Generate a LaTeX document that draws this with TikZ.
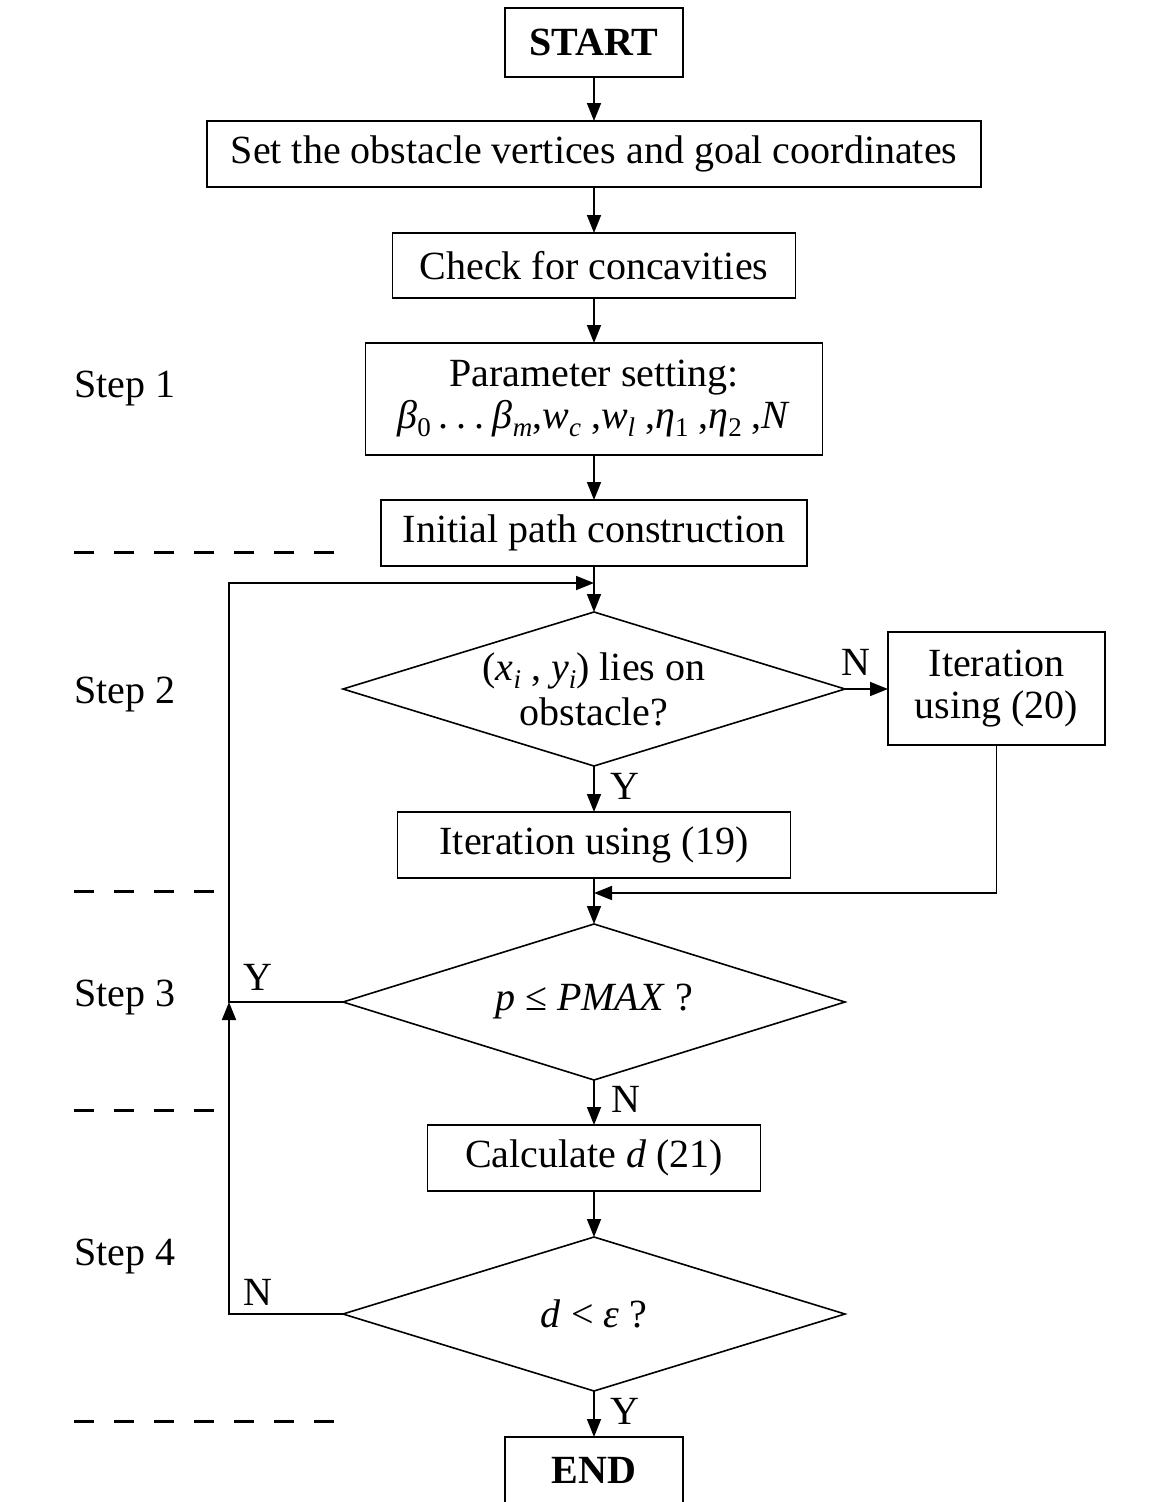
\documentclass[tikz,border=0pt]{standalone}
\usepackage{fontspec}
\setmainfont{Liberation Serif}
\usetikzlibrary{shapes.geometric,arrows.meta}
\newcommand\sbs[1]{\raisebox{-0.2em}{\fontsize{27}{30}\selectfont #1}}
\newcommand\sdot{\hspace{0.2em}.}
\begin{document}
\begin{tikzpicture}[x=1pt,y=-1pt,
  font=\fontsize{40}{42}\selectfont,
  box/.style={draw,line width=1.6pt,inner sep=0pt,outer sep=0pt,align=center},
  dia/.style={draw,diamond,line width=1.6pt,inner sep=0pt,outer sep=0pt},
  arr/.style={line width=1.6pt,-{Triangle[length=18pt,width=14pt]}},
  lbl/.style={inner sep=0pt,align=center},
  sep/.style={line width=3pt,dash pattern=on 20pt off 20pt}]
\useasboundingbox (0,0) rectangle (1151,1502);
\fill[white] (0,0) rectangle (1151,1502);

% nodes
\node[box,minimum width=178pt,minimum height=69pt] (start) at (594,42.5) {\bfseries START};
\node[box,minimum width=774pt,minimum height=66pt] (b2) at (594,154) {Set the obstacle vertices and goal coordinates};
\node[box,minimum width=403pt,minimum height=65pt] (b3) at (594,265.5) {Check for concavities};
\node[box,minimum width=457pt,minimum height=112pt] (b4) at (594,399) {Parameter setting:\\
  \textit{β}\sbs{0}\sdot\sdot\sdot\hspace{0.2em}\textit{β}\sbs{\textit{m}},\textit{w}\sbs{\textit{c}} ,\textit{w}\sbs{\textit{l}} ,\textit{η}\sbs{1} ,\textit{η}\sbs{2} ,\textit{N}};
\node[box,minimum width=426pt,minimum height=66pt] (b5) at (594,533) {Initial path construction};
\node[dia,minimum width=502pt,minimum height=154pt] (d1) at (594,689) {};
\node[lbl] at (d1) {(\textit{x}\sbs{\textit{i}} , \textit{y}\sbs{\textit{i}}) lies on\\[3pt]obstacle?};
\node[box,minimum width=217pt,minimum height=113pt] (it20) at (996.5,688.5) {Iteration\\using (20)};
\node[box,minimum width=393pt,minimum height=66pt] (it19) at (594,845) {Iteration using (19)};
\node[dia,minimum width=502pt,minimum height=156pt] (d2) at (594,1002) {};
\node[lbl] at (d2) {\textit{p} ≤ \textit{PMAX} ?};
\node[box,minimum width=333pt,minimum height=66pt] (calc) at (594,1158) {Calculate \textit{d} (21)};
\node[dia,minimum width=502pt,minimum height=154pt] (d3) at (594,1314) {};
\node[lbl] at (d3) {\textit{d} < \textit{ε} ?};
\node[box,minimum width=178pt,minimum height=66pt] (end) at (594,1470) {\bfseries END};

% junctions
\coordinate (j1) at (594,583);
\coordinate (j2) at (594,893);
\coordinate (c0) at (229,583);
\coordinate (c1) at (229,1002);
\coordinate (c2) at (229,1314);

% connectors
\draw[arr] (start) -- (b2);
\draw[arr] (b2) -- (b3);
\draw[arr] (b3) -- (b4);
\draw[arr] (b4) -- (b5);
\draw[arr] (b5) -- (d1);
\draw[arr] (d1.east) -- (d1.east -| it20.west);
\draw[arr] (d1) -- (it19);
\draw[arr] (it20.south) |- (j2);
\draw[arr] (it19) -- (d2);
\draw[arr] (d2) -- (calc);
\draw[arr] (calc) -- (d3);
\draw[arr] (d3) -- (end);
\draw[arr] (d2.west) -- (c1) -- (c0) -- (j1);
\draw[arr] (d3.west) -- (c2) -- (c1);

% branch labels
\node[lbl] at (856,662) {N};
\node[lbl] at (625,786) {Y};
\node[lbl] at (258,977) {Y};
\node[lbl] at (626,1099) {N};
\node[lbl] at (258,1292) {N};
\node[lbl] at (625,1411) {Y};

% step labels
\node[lbl,anchor=base west] at (74,397) {Step 1};
\node[lbl,anchor=base west] at (74,703) {Step 2};
\node[lbl,anchor=base west] at (74,1006) {Step 3};
\node[lbl,anchor=base west] at (74,1265) {Step 4};

% separators
\draw[sep] (74,552) -- (334,552);
\draw[sep] (74,891) -- (214,891);
\draw[sep] (74,1110) -- (214,1110);
\draw[sep] (74,1421) -- (334,1421);
\end{tikzpicture}
\end{document}
